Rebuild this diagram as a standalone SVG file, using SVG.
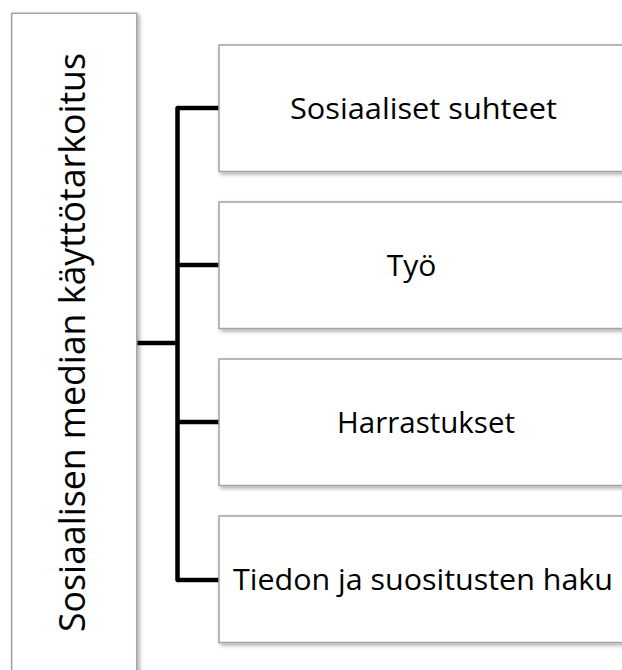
<svg xmlns="http://www.w3.org/2000/svg" width="622" height="670" viewBox="0 0 622 670">
  <defs>
    <filter id="shadow" x="-10%" y="-10%" width="130%" height="130%">
      <feDropShadow dx="2" dy="2" stdDeviation="2" flood-color="#000" flood-opacity="0.35"/>
    </filter>
    <style>
      .box { fill: #ffffff; stroke: #a3a3a3; stroke-width: 1.5; filter: url(#shadow); }
      .wire { fill: none; stroke: #000000; stroke-width: 4.5; stroke-linejoin: round; }
      .label { font-family: "Open Sans", "DejaVu Sans", sans-serif; fill: #000000; text-anchor: middle; }
      .side { font-size: 36px; }
      .item { font-size: 30px; }
    </style>
  </defs>
  <rect width="622" height="670" fill="#ffffff"/>

  <!-- connectors -->
  <g id="connectors">
    <path class="wire" d="M137 343 H177.5"/>
    <path class="wire" d="M219 108 H177.5 V580 H219"/>
    <path class="wire" d="M177.5 265 H219"/>
    <path class="wire" d="M177.5 422 H219"/>
  </g>

  <!-- root node -->
  <g id="root">
    <rect class="box" x="11.7" y="13.3" width="125" height="700"/>
    <text class="label side" transform="translate(85 342.5) rotate(-90)" textLength="579" lengthAdjust="spacingAndGlyphs">Sosiaalisen median käyttötarkoitus</text>
  </g>

  <!-- child nodes -->
  <g id="node-suhteet">
    <rect class="box" x="219" y="45" width="420" height="126.5"/>
    <text class="label item" x="423.5" y="118.5" textLength="267" lengthAdjust="spacingAndGlyphs">Sosiaaliset suhteet</text>
  </g>
  <g id="node-tyo">
    <rect class="box" x="219" y="202" width="420" height="126.5"/>
    <text class="label item" x="411.5" y="275.5">Työ</text>
  </g>
  <g id="node-harrastukset">
    <rect class="box" x="219" y="359" width="420" height="126.5"/>
    <text class="label item" x="426" y="432.5" textLength="178" lengthAdjust="spacingAndGlyphs">Harrastukset</text>
  </g>
  <g id="node-haku">
    <rect class="box" x="219" y="516" width="420" height="126.5"/>
    <text class="label item" x="423" y="590" textLength="380" lengthAdjust="spacingAndGlyphs">Tiedon ja suositusten haku</text>
  </g>
</svg>
